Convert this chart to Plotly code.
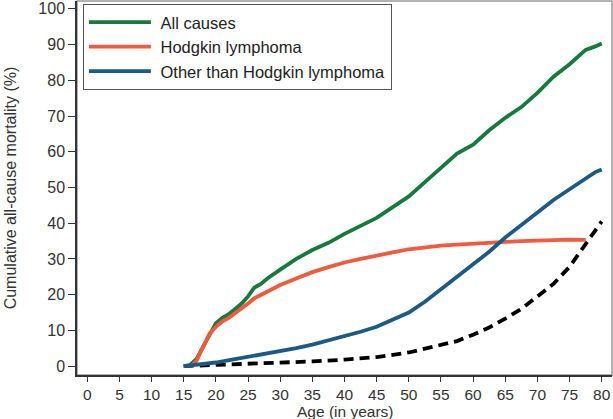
import plotly.graph_objects as go

# Ages and values
age_all = [15, 16, 17, 18, 19, 20, 21, 22, 23, 24, 25, 26, 27, 28, 30, 31.5, 32.5, 35, 37.5, 40,
           42.5, 45, 47.5, 50, 52.5, 55, 57.5, 60, 62.5, 65, 67.5, 70, 72.5, 75, 77.5, 79, 80]
all_causes = [0, 0.3, 2, 5.5, 9, 12, 13.5, 14.5, 16, 17.5, 19.5, 22, 23, 24.5, 27, 28.8, 30, 32.5, 34.5, 37,
              39.3, 41.5, 44.5, 47.5, 51.5, 55.5, 59.5, 62, 66, 69.5, 72.5, 76.5, 81, 84.5, 88.5, 89.5, 90.3]

age_hl = [16.2, 17, 17.5, 18, 19, 20, 21, 22, 23, 24, 25, 26, 27, 28, 30, 32.5, 35, 37.5, 40, 42.5,
          45, 47.5, 50, 52.5, 55, 57.5, 60, 62.5, 65, 67.5, 70, 72.5, 75, 77.5]
hodgkin = [0, 1.5, 3.5, 5.5, 9, 11, 12.5, 13.5, 14.8, 16, 17.5, 19, 20, 21, 22.7, 24.5, 26.3, 27.7, 29, 30,
           31, 31.8, 32.7, 33.3, 33.7, 34, 34.3, 34.5, 34.8, 35, 35.1, 35.3, 35.4, 35.3]

age_other = [15, 17, 20, 22.5, 25, 27.5, 30, 32.5, 35, 37.5, 40, 42.5, 45, 47.5, 50, 52.5, 55, 57.5,
             60, 62.5, 65, 67.5, 70, 72.5, 75, 77.5, 79, 80]
other = [0, 0.3, 1, 1.8, 2.6, 3.3, 4.2, 5, 6, 7.2, 8.3, 9.6, 11, 13, 15, 18, 21.5, 25,
         28.3, 32, 36, 39.5, 43, 46.5, 49.5, 52.5, 54.3, 55]

age_ref = [15, 20, 25, 30, 35, 40, 45, 50, 55, 57.5, 60, 62.5, 65, 67.5, 70, 72.5, 75, 77.5, 80]
reference = [0, 0.3, 0.6, 0.9, 1.3, 1.8, 2.5, 3.8, 5.8, 7, 8.8, 10.8, 13.3, 16, 19.5, 23, 27.8, 34, 40.5]

x_ticks = list(range(0, 81, 5))
y_ticks = list(range(0, 101, 10))

GREEN = "#157a3c"
RED = "#ef5b3c"
BLUE = "#1b5a87"
NB = "\u00a0"

fig = go.Figure()
fig.add_trace(go.Scatter(x=age_ref, y=reference, mode="lines", showlegend=False,
                         line=dict(color="black", width=3.8, dash="10px,6px")))
fig.add_trace(go.Scatter(x=age_all, y=all_causes, mode="lines", name=NB + "All causes",
                         line=dict(color=GREEN, width=3.8)))
fig.add_trace(go.Scatter(x=age_hl, y=hodgkin, mode="lines", name=NB + "Hodgkin lymphoma",
                         line=dict(color=RED, width=3.8)))
fig.add_trace(go.Scatter(x=age_other, y=other, mode="lines", name=NB + "Other than Hodgkin lymphoma",
                         line=dict(color=BLUE, width=3.8)))

font_family = "Liberation Sans, Arial, sans-serif"
fig.update_layout(
    width=613, height=419,
    margin=dict(l=77, r=1, t=1, b=44),
    paper_bgcolor="white", plot_bgcolor="white",
    font=dict(family=font_family, size=16, color="#333333"),
    legend=dict(x=0.011, y=0.992, xanchor="left", yanchor="top",
                bgcolor="white", bordercolor="#555555", borderwidth=1,
                font=dict(size=16.5, color="#222222"), itemwidth=62,
                tracegroupgap=0),
    shapes=[dict(type="rect", xref="paper", yref="paper", x0=0, x1=1, y0=0, y1=1,
                 line=dict(color="#999999", width=1.5), layer="below")],
    annotations=[dict(text="Age (in years)", xref="paper", yref="paper", x=0.5, y=-44 / 374,
                      xanchor="center", yanchor="bottom", yshift=-2, showarrow=False,
                      font=dict(size=15.5, color="#333333"), borderpad=0)],
)
fig.update_xaxes(range=[-1.6, 81.6], tickvals=x_ticks, ticks="outside", ticklen=5,
                 tickcolor="#333333", showline=True, linecolor="#333333", linewidth=1.5,
                 showgrid=False, zeroline=False, automargin=False,
                 tickfont=dict(size=15.5))
fig.update_yaxes(range=[-2.5, 102.2], tickvals=y_ticks, ticks="outside", ticklen=7,
                 tickcolor="#333333", showline=True, linecolor="#333333", linewidth=1.5,
                 showgrid=False, zeroline=False, automargin=False,
                 title=dict(text="Cumulative all-cause mortality (%)", standoff=18, font=dict(size=16)))

fig.write_html("out.html", config={"displayModeBar": False},
               post_script="document.body.style.margin='0';")
